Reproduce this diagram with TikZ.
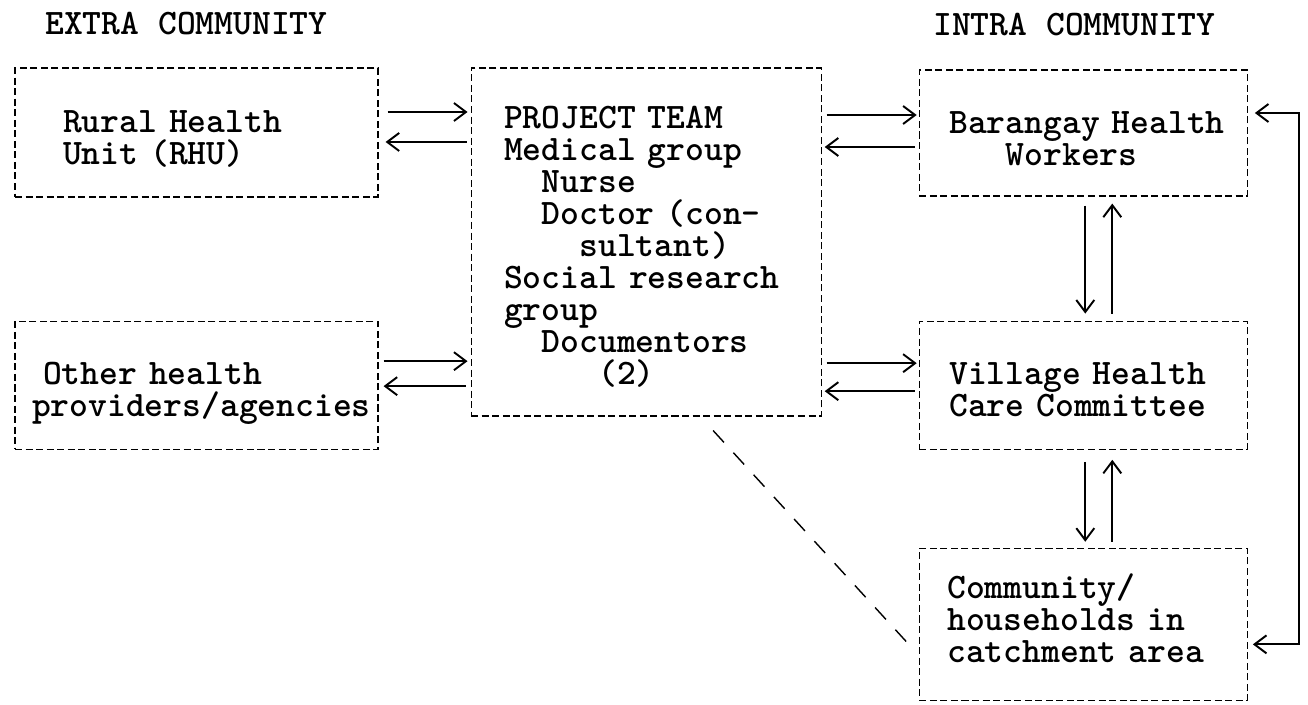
\documentclass[tikz,border=0pt]{standalone}
\usetikzlibrary{arrows.meta,positioning}

\newcommand{\ind}[1]{\hspace*{#1\dimexpr0.525em\relax}}
\setlength{\lineskiplimit}{-20pt}

\begin{document}
\begin{tikzpicture}[
            x=0.02cm, y=-0.02cm,
            every node/.style={font=\ttfamily\bfseries\fontsize{20.4}{18.2}\selectfont},
            box/.style={draw, line width=0.7pt, dash pattern=on 4pt off 2pt, align=left, inner xsep=0.1cm, inner ysep=0pt},
            head/.style={anchor=west, inner sep=0pt},
            link/.style={-{Straight Barb[length=0.24cm,width=0.36cm]}, line width=1.1pt},
            twoway/.style={{Straight Barb[length=0.24cm,width=0.36cm]}-{Straight Barb[length=0.24cm,width=0.36cm]}, line width=1.1pt},
            node distance = 2cm
  ]

  \useasboundingbox (0,0) rectangle (1308,705);

  \node[head] (extra) at (45,24) {EXTRA COMMUNITY};
  \node[head] (intra) at (933,25) {INTRA COMMUNITY};

  % extra community
  \node[box, text width=7.06cm, minimum height=2.58cm] (rhu) at (196.5,132.5)
    {\rule{0pt}{19.9pt}\hspace*{0.86cm}Rural Health\\\hspace*{0.86cm}Unit (RHU)};
  \node[box, text width=7.06cm, minimum height=2.56cm, below=2.46cm of rhu] (other)
    {\rule{0pt}{21.5pt}\hspace*{0.46cm}Other health\\\hspace*{0.24cm}providers/agencies};

  % project team
  \node[box, text width=6.8cm, minimum height=6.96cm, right=1.84cm of rhu.north east, anchor=north west] (team)
    {\rule{0pt}{18.1pt}\hspace*{0.56cm}PROJECT TEAM\\
     \hspace*{0.56cm}Medical group\\
     \hspace*{0.56cm}\ind{2}Nurse\\
     \hspace*{0.56cm}\ind{2}Doctor (con-\\
     \hspace*{0.56cm}\ind{4}sultant)\\
     \hspace*{0.56cm}Social research\\
     \hspace*{0.56cm}group\\
     \hspace*{0.56cm}\ind{2}Documentors\\
     \hspace*{0.56cm}\ind{5}(2)};

  % intra community
  \node[box, text width=6.36cm, minimum height=2.52cm, right=1.94cm of team.north east, anchor=north west, yshift=-0.04cm] (bhw)
    {\rule{0pt}{19.3pt}\hspace*{0.5cm}Barangay Health\\\hspace*{0.5cm}\ind{3}Workers};
  \node[box, text width=6.36cm, minimum height=2.56cm, below=2.48cm of bhw] (vhcc)
    {\rule{0pt}{18.1pt}\hspace*{0.5cm}Village Health\\\hspace*{0.5cm}Care Committee};
  \node[box, text width=6.36cm, minimum height=3.04cm, below=1.96cm of vhcc] (comm)
    {\hspace*{0.46cm}Community/\\\hspace*{0.46cm}households in\\\rule[-6.8pt]{0pt}{6.8pt}\hspace*{0.46cm}catchment area};

  \coordinate (rail) at (1299,0);

  % two way links
  \draw[link, shorten <=0.18cm, shorten >=0.06cm] ([yshift=0.41cm]rhu.east) -- ([yshift=0.41cm]rhu.east -| team.west);
  \draw[link, shorten <=0.08cm, shorten >=0.14cm] ([yshift=-0.19cm]rhu.east -| team.west) -- ([yshift=-0.19cm]rhu.east);
  \draw[link, shorten <=0.1cm, shorten >=0.06cm] ([yshift=0.48cm]other.east) -- ([yshift=0.48cm]other.east -| team.west);
  \draw[link, shorten <=0.1cm, shorten >=0.1cm] ([yshift=-0.02cm]other.east -| team.west) -- ([yshift=-0.02cm]other.east);

  \draw[link, shorten <=0.1cm, shorten >=0.04cm] ([yshift=0.36cm]bhw.west -| team.east) -- ([yshift=0.36cm]bhw.west);
  \draw[link, shorten <=0.08cm, shorten >=0.06cm] ([yshift=-0.28cm]bhw.west) -- ([yshift=-0.28cm]bhw.west -| team.east);
  \draw[link, shorten <=0.1cm, shorten >=0.04cm] ([yshift=0.44cm]vhcc.west -| team.east) -- ([yshift=0.44cm]vhcc.west);
  \draw[link, shorten <=0.08cm, shorten >=0.06cm] ([yshift=-0.12cm]vhcc.west) -- ([yshift=-0.12cm]vhcc.west -| team.east);

  \draw[link, shorten <=0.18cm, shorten >=0.14cm] ([xshift=0.04cm]bhw.south) -- ([xshift=0.04cm]bhw.south |- vhcc.north);
  \draw[link, shorten <=0.14cm, shorten >=0.14cm] ([xshift=0.58cm]bhw.south |- vhcc.north) -- ([xshift=0.58cm]bhw.south);
  \draw[link, shorten <=0.24cm, shorten >=0.12cm] ([xshift=0.04cm]vhcc.south) -- ([xshift=0.04cm]vhcc.south |- comm.north);
  \draw[link, shorten <=0.12cm, shorten >=0.2cm] ([xshift=0.58cm]vhcc.south |- comm.north) -- ([xshift=0.58cm]vhcc.south);

  \draw[twoway, shorten <=0.14cm, shorten >=0.1cm] ([yshift=0.4cm]bhw.east) -- ([yshift=0.4cm]bhw.east -| rail) |- ([yshift=-0.4cm]comm.east);

  \draw[line width=0.8pt, dash pattern=on 0.32cm off 0.28cm] ([xshift=1.34cm,yshift=-0.28cm]team.south) -- ([xshift=-0.18cm,yshift=-0.42cm]comm.west);

\end{tikzpicture}
\end{document}
